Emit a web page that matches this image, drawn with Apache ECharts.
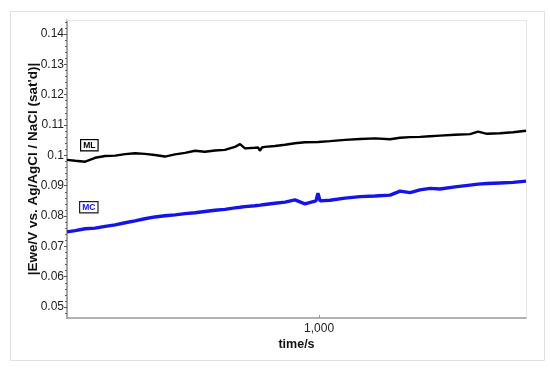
<!DOCTYPE html>
<html>
<head>
<meta charset="utf-8">
<script src="https://cdn.jsdelivr.net/npm/echarts@6/dist/echarts.min.js"></script>
<style>
html,body{margin:0;padding:0;background:#fff;}
#c{width:550px;height:369px;}
</style>
</head>
<body>
<div id="c"></div>
<script>
// ---- data ----
const mlTime = [210,221,235,250,266,283,301,320,340,362,385,410,436,464,493,525,558,594,613,632,672,685,694,702,715,761,810,861,916,993,1070,1174,1289,1414,1552,1651,1756,1868,1988,2114,2320,2546,2676,2829,3066,3322,3600];
const mlVal  = [0.0985,0.0982,0.0979,0.0992,0.0998,0.0999,0.1004,0.1007,0.1005,0.1001,0.0996,0.1003,0.1008,0.1015,0.1012,0.1016,0.1018,0.1028,0.1037,0.1023,0.1025,0.1026,0.1015,0.1026,0.1028,0.1031,0.1035,0.1040,0.1043,0.1044,0.1047,0.1051,0.1054,0.1056,0.1053,0.1058,0.1060,0.1061,0.1063,0.1065,0.1068,0.1070,0.1078,0.1071,0.1073,0.1076,0.1081];
const mcTime = [210,221,235,250,266,283,301,320,340,362,385,410,436,464,493,525,558,594,613,632,672,694,715,761,810,861,916,981,993,1006,1070,1174,1289,1414,1552,1651,1756,1868,1988,2114,2320,2546,2676,2829,3066,3322,3600];
const mcVal  = [0.0748,0.0752,0.0758,0.0760,0.0766,0.0771,0.0778,0.0784,0.0791,0.0797,0.0801,0.0804,0.0808,0.0811,0.0815,0.0819,0.0822,0.0827,0.0829,0.0831,0.0834,0.0836,0.0838,0.0842,0.0846,0.0853,0.0840,0.0850,0.0875,0.0850,0.0852,0.0859,0.0864,0.0866,0.0869,0.0882,0.0877,0.0886,0.0891,0.0889,0.0896,0.0902,0.0905,0.0907,0.0909,0.0911,0.0915];
const yTicks = [0.05,0.06,0.07,0.08,0.09,0.10,0.11,0.12,0.13,0.14];
const xTicks = [1000];
const seriesNames = ['ML','MC'];

const yMinor = [];
for (let i = 23; i <= 72; i++) { const v = i * 0.002; if (i % 5 !== 0) yMinor.push(Math.round(v*1000)/1000); }

const font = 'Liberation Sans, Arial, sans-serif';
const chart = echarts.init(document.getElementById('c'));
chart.setOption({
  animation: false,
  backgroundColor: '#fff',
  grid: {left: 67, right: 24, top: 20, bottom: 51},
  xAxis: [{
    type: 'log', logBase: 10, min: 210, max: 3600,
    name: 'time/s', nameLocation: 'middle', nameGap: 20, nameMoveOverlap: false,
    nameTextStyle: {fontFamily: font, fontWeight: 'bold', fontSize: 12.5, color: '#111'},
    axisLine: {lineStyle: {color: '#999', width: 1.5}},
    axisTick: {customValues: xTicks, length: 3, inside: true, lineStyle: {color: '#999'}},
    axisLabel: {customValues: xTicks, fontFamily: font, fontSize: 12, color: '#222', margin: 5,
      formatter: v => Number(v).toLocaleString('en-US')},
    splitLine: {show: false}, minorTick: {show: false}, minorSplitLine: {show: false}
  }, {
    type: 'log', logBase: 10, min: 210, max: 3600, position: 'top',
    axisLine: {show: true, lineStyle: {color: '#e6e6e6', width: 1}},
    axisTick: {show: false}, axisLabel: {show: false}, splitLine: {show: false}
  }],
  yAxis: [{
    type: 'value', min: 0.0464, max: 0.1446,
    name: "|Ewe/V vs. Ag/AgCl / NaCl (sat'd)|", nameLocation: 'middle', nameGap: 27, nameMoveOverlap: false,
    nameTextStyle: {fontFamily: font, fontWeight: 'bold', fontSize: 13.5, color: '#111'},
    axisLine: {show: true, lineStyle: {color: '#888', width: 1.5}},
    axisTick: {show: true, customValues: yTicks, length: 3, lineStyle: {color: '#555'}},
    axisLabel: {customValues: yTicks, fontFamily: font, fontSize: 12, color: '#222', margin: 3,
      formatter: v => String(Number(Number(v).toFixed(2)))},
    splitLine: {show: false}
  }, {
    type: 'value', min: 0.0464, max: 0.1446, position: 'left',
    axisLine: {show: false},
    axisTick: {show: true, customValues: yMinor, length: 2, lineStyle: {color: '#666'}},
    axisLabel: {show: false}, splitLine: {show: false}
  }, {
    type: 'value', min: 0.0464, max: 0.1446, position: 'right',
    axisLine: {show: true, lineStyle: {color: '#e6e6e6', width: 1}},
    axisTick: {show: false}, axisLabel: {show: false}, splitLine: {show: false}
  }],
  series: [{
    name: seriesNames[0], type: 'line', showSymbol: false, symbol: 'none',
    data: mlTime.map((t, i) => [t, mlVal[i]]),
    lineStyle: {color: '#000', width: 2.4}
  }, {
    name: seriesNames[1], type: 'line', showSymbol: false, symbol: 'none',
    data: mcTime.map((t, i) => [t, mcVal[i]]),
    lineStyle: {color: '#1414e6', width: 3.4}
  }],
  graphic: [
    {type: 'rect', left: 8, top: 9, shape: {width: 534, height: 349}, style: {fill: 'none', stroke: '#e0e0e0', lineWidth: 1}, silent: true, z: -1},
    {type: 'text', left: 80, top: 139, style: {text: seriesNames[0], font: 'bold 8.5px ' + font, fill: '#000',
      borderColor: '#000', borderWidth: 1.2, padding: [1, 2, 0, 2], backgroundColor: '#fff'}},
    {type: 'text', left: 79, top: 201, style: {text: seriesNames[1], font: 'bold 8.5px ' + font, fill: '#1414e6',
      borderColor: '#222', borderWidth: 1.2, padding: [1, 2, 0, 2], backgroundColor: '#fff'}}
  ]
});
</script>
</body>
</html>
